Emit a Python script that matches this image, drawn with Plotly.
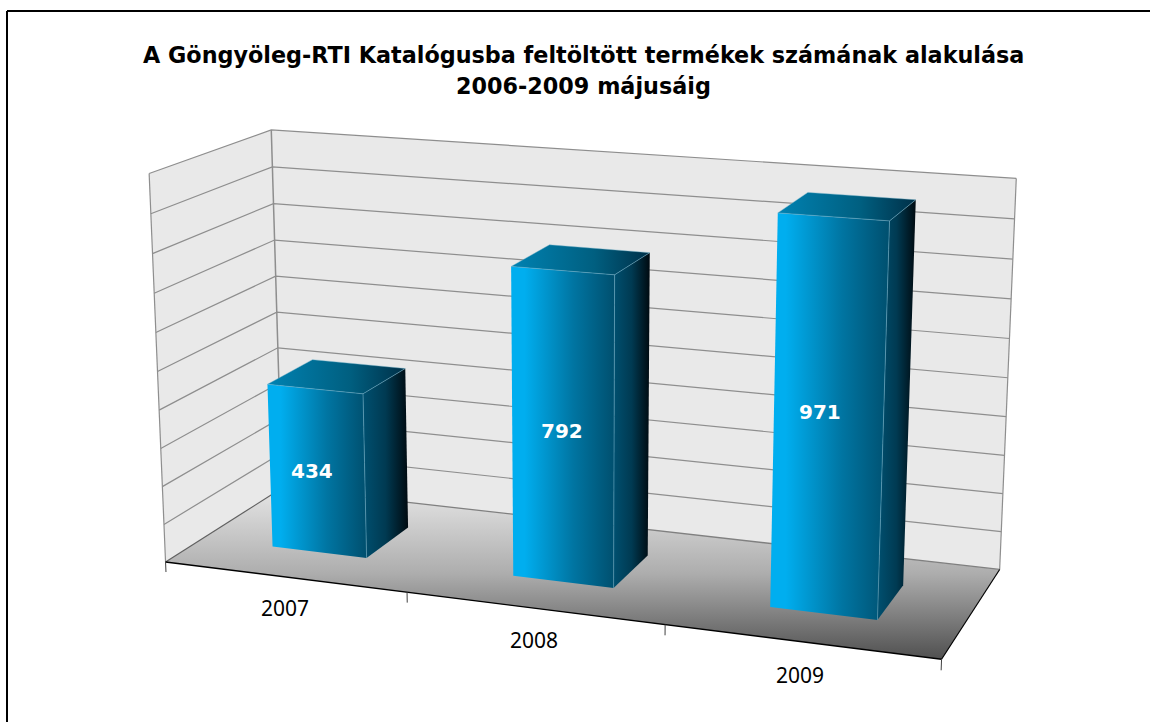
import numpy as np
import plotly.graph_objects as go

# --- data -------------------------------------------------------------
years = ["2007", "2008", "2009"]
values = [434, 792, 971]
grid_values = [100, 200, 300, 400, 500, 600, 700, 800, 900, 1000]
title_lines = ["A Göngyöleg-RTI Katalógusba feltöltött termékek számának alakulása",
               "2006-2009 májusáig"]

# --- view: perspective camera of the 3-D box (category, depth, value/1000, 1) -> page pixels
W, H = 1150, 722
CAMERA = np.array([
    [228.4315074, 141.6987503, -22.0647471, 165.5452124],
    [11.2717304, -30.3410259, -395.0221931, 561.9366638],
    [-0.0321154, 0.0892246, -0.0379456, 1.0],
])
BAR_HALF, BAR_FRONT, BAR_BACK = 0.1991898, 0.3037623, 0.6993465
AXIS_TOP = 1000


def project(points):
    a = np.asarray(points, float)
    a = np.c_[a[:, 0], a[:, 1], a[:, 2] / 1000, np.ones(len(a))]
    q = a @ CAMERA.T
    return q[:, :2] / q[:, 2:]


fig = go.Figure()


def face(points, color=None, grad=None):
    q = project(points)
    kw = dict(x=list(q[:, 0]) + [q[0, 0]], y=list(q[:, 1]) + [q[0, 1]], mode="lines",
              line=dict(width=0), fill="toself", hoverinfo="skip", showlegend=False)
    if color:
        kw["fillcolor"] = color
    if grad:
        kind, stops = grad
        col = 0 if kind == "horizontal" else 1
        kw["fillgradient"] = dict(type=kind, start=float(q[:, col].min()), stop=float(q[:, col].max()),
                                  colorscale=stops)
    fig.add_trace(go.Scatter(**kw))


def edge(points, color, width):
    q = project(points)
    fig.add_trace(go.Scatter(x=q[:, 0], y=q[:, 1], mode="lines", line=dict(color=color, width=width),
                             hoverinfo="skip", showlegend=False))


WALL = "#e9e9e9"
GRID = "#8e8e8e"
FLOOR = [[0, "#e6e6e6"], [0.5, "#adadad"], [1, "#505050"]]
FRONT = [[0, "#00AEEF"], [0.13, "#00AEEF"], [0.6, "#0075A2"], [1, "#004F6E"]]
SIDE = [[0, "#005070"], [0.5, "#003A52"], [1, "#000A10"]]
TOPF = [[0, "#0082B2"], [0.6, "#005F80"], [1, "#003048"]]
EDGE = "rgba(110,175,200,0.7)"

face([(0, 0, 0), (0, 1, 0), (0, 1, AXIS_TOP), (0, 0, AXIS_TOP)], WALL)
face([(0, 1, 0), (3, 1, 0), (3, 1, AXIS_TOP), (0, 1, AXIS_TOP)], WALL)
face([(0, 0, 0), (3, 0, 0), (3, 1, 0), (0, 1, 0)], grad=("vertical", FLOOR))
for z in grid_values:
    edge([(0, 0, z), (0, 1, z), (3, 1, z)], GRID, 1.2)
edge([(0, 0, 0), (0, 0, AXIS_TOP)], GRID, 1.2)
edge([(0, 1, 0), (0, 1, AXIS_TOP)], GRID, 1.5)
edge([(3, 1, 0), (3, 1, AXIS_TOP)], GRID, 1.2)
edge([(0, 1, 0), (3, 1, 0)], "#808080", 1.3)
edge([(0, 0, 0), (0, 1, 0)], "#606060", 1.2)
edge([(0, 0, 0), (3, 0, 0)], "#000000", 1.4)
edge([(3, 0, 0), (3, 1, 0)], "#000000", 1.2)
for k in range(len(years) + 1):
    edge([(k, 0, 0), (k, 0, -27)], "#404040", 1)

d0, d1 = BAR_FRONT, BAR_BACK
for i, v in enumerate(values):
    c = i + 0.5
    l, r = c - BAR_HALF, c + BAR_HALF
    face([(l, d0, v), (r, d0, v), (r, d1, v), (l, d1, v)], grad=("horizontal", TOPF))
    face([(r, d0, 0), (r, d1, 0), (r, d1, v), (r, d0, v)], grad=("horizontal", SIDE))
    face([(l, d0, 0), (r, d0, 0), (r, d0, v), (l, d0, v)], grad=("horizontal", FRONT))
    edge([(l, d0, v), (r, d0, v), (r, d0, 0)], EDGE, 0.8)
    edge([(r, d0, v), (r, d1, v)], EDGE, 0.8)
    edge([(l, d0, v), (l, d1, v), (r, d1, v)], EDGE, 0.6)

label_shift_x = [-5, -1, -8]
label_shift_y = [0, -2, 7]
ann = []
for i, (yr, v) in enumerate(zip(years, values)):
    q = project([(i + 0.5, d0, v / 2)])[0]
    ann.append(dict(x=q[0], y=q[1], xref="x", yref="y", text=str(v), showarrow=False,
                    xshift=label_shift_x[i], yshift=label_shift_y[i],
                    font=dict(family="DejaVu Sans", size=20, color="white", weight="bold")))
    q = project([(i + 0.5, 0, -83)])[0]
    ann.append(dict(x=q[0], y=q[1], xref="x", yref="y", text=yr, showarrow=False,
                    font=dict(family="Noto Sans", size=21, color="#000")))
for line, y in zip(title_lines, [55, 86]):
    ann.append(dict(x=583, y=y, xref="x", yref="y", showarrow=False, text="<b>" + line + "</b>",
                    font=dict(family="DejaVu Sans", size=22.3, color="#000")))

fig.add_shape(type="line", x0=7, y0=11, x1=W, y1=11, line=dict(color="black", width=2), layer="above")
fig.add_shape(type="line", x0=7, y0=11, x1=7, y1=H, line=dict(color="black", width=2), layer="above")
fig.update_layout(width=W, height=H, margin=dict(l=0, r=0, t=0, b=0), paper_bgcolor="white", plot_bgcolor="white",
                  annotations=ann, showlegend=False,
                  xaxis=dict(visible=False, range=[0, W], fixedrange=True),
                  yaxis=dict(visible=False, range=[H, 0], fixedrange=True))
fig.write_html("out.html", config=dict(displayModeBar=False),
               post_script="document.body.style.margin='0';document.body.style.overflow='hidden';")
